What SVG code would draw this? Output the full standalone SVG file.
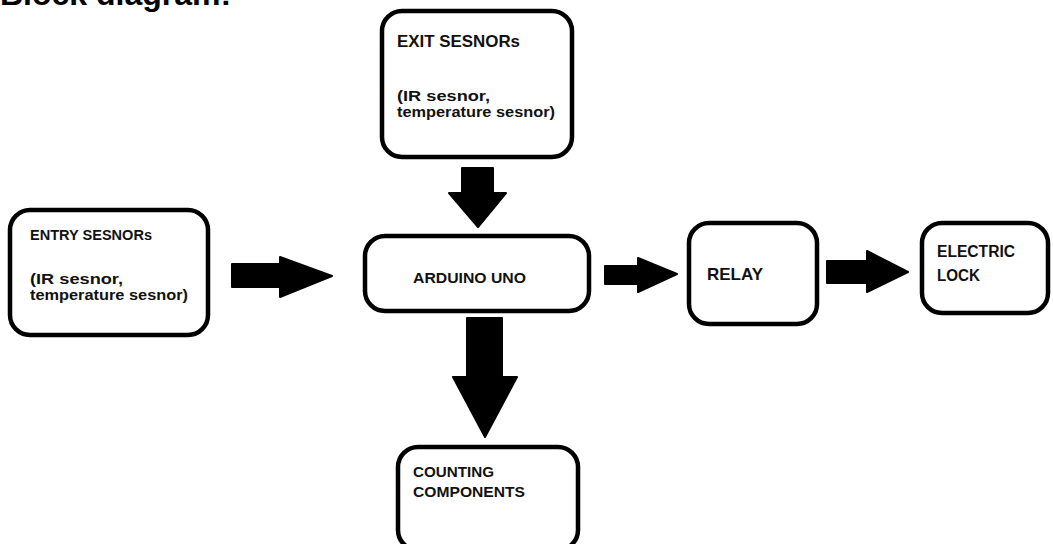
<svg xmlns="http://www.w3.org/2000/svg" width="1053" height="544" viewBox="0 0 1053 544">
<style>
.box{fill:#fff;stroke:#000;stroke-width:4.5}
.t{font-family:"Liberation Sans",Arial,sans-serif;font-weight:bold;font-size:15.5px;fill:#111}
.arr{fill:#000;stroke:#000;stroke-width:2;stroke-linejoin:round}
.title{font-family:"Liberation Sans",Arial,sans-serif;font-weight:bold;font-size:32px;fill:#000}
</style>
<rect width="1053" height="544" fill="#fff"/>
<text class="title" x="0" y="5">Block diagram:</text>
<g id="connectors">
<polygon class="arr" points="232,264 280,264 280,257 332,276 280,297 280,287 232,287"/>
<polygon class="arr" points="462,168 493,168 493,193 506,193 478,227 449,193 462,193"/>
<polygon class="arr" points="467,318 502,318 502,377 517,377 485,437 453,377 467,377"/>
<polygon class="arr" points="605,266 638,266 638,258 677,274 638,292 638,284 605,284"/>
<polygon class="arr" points="827,261 867,261 867,251 908,272 867,292 867,283 827,283"/>
</g>
<g id="exit-sensors">
<rect class="box" x="382" y="11" width="190" height="146" rx="20"/>
<text class="t" x="397" y="47" style="font-size:16.5px" textLength="123" lengthAdjust="spacingAndGlyphs">EXIT SESNORs</text>
<text class="t" x="397" y="101" textLength="93" lengthAdjust="spacingAndGlyphs">(IR sesnor,</text>
<text class="t" x="397" y="117" textLength="158" lengthAdjust="spacingAndGlyphs">temperature sesnor)</text>
</g>
<g id="entry-sensors">
<rect class="box" x="10" y="210" width="198" height="125" rx="20"/>
<text class="t" x="30" y="240" style="font-size:14.5px" textLength="122" lengthAdjust="spacingAndGlyphs">ENTRY SESNORs</text>
<text class="t" x="30" y="284" textLength="93" lengthAdjust="spacingAndGlyphs">(IR sesnor,</text>
<text class="t" x="30" y="300" textLength="158" lengthAdjust="spacingAndGlyphs">temperature sesnor)</text>
</g>
<g id="arduino">
<rect class="box" x="365" y="236" width="224" height="75" rx="20"/>
<text class="t" x="413" y="283" style="font-size:14.5px" textLength="113" lengthAdjust="spacingAndGlyphs">ARDUINO UNO</text>
</g>
<g id="relay">
<rect class="box" x="689" y="223" width="128" height="101" rx="20"/>
<text class="t" x="707" y="280" style="font-size:17px" textLength="56" lengthAdjust="spacingAndGlyphs">RELAY</text>
</g>
<g id="electric-lock">
<rect class="box" x="922" y="223" width="126" height="90" rx="20"/>
<text class="t" x="937" y="257" style="font-size:16px" textLength="78" lengthAdjust="spacingAndGlyphs">ELECTRIC</text>
<text class="t" x="937" y="281" style="font-size:16px" textLength="43" lengthAdjust="spacingAndGlyphs">LOCK</text>
</g>
<g id="counting">
<rect class="box" x="398" y="447" width="180" height="103" rx="20"/>
<text class="t" x="413" y="477" textLength="81" lengthAdjust="spacingAndGlyphs">COUNTING</text>
<text class="t" x="413" y="497" textLength="112" lengthAdjust="spacingAndGlyphs">COMPONENTS</text>
</g>
</svg>
